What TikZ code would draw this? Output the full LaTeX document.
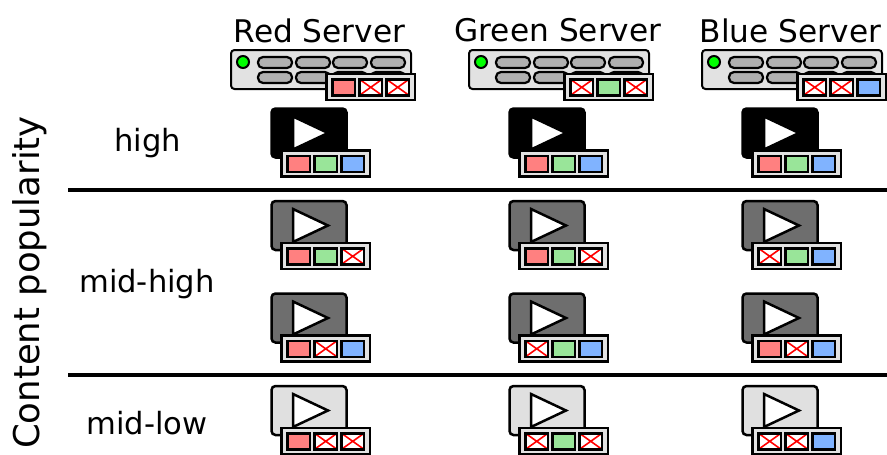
\documentclass[tikz,border=0pt]{standalone}
\usepackage{fontspec}
\setmainfont{DejaVu Sans}
\definecolor{cr}{HTML}{FF8080}
\definecolor{cg}{HTML}{99E599}
\definecolor{cb}{HTML}{80B3FF}
\definecolor{panel}{HTML}{E2E2E2}
\definecolor{pill}{HTML}{B0B0B0}
\definecolor{vdark}{HTML}{6E6E6E}
\definecolor{vlight}{HTML}{E0E0E0}
\tikzset{
  outl/.style={draw=black,line width=2.5pt},
  rule/.style={draw=black,line width=4pt},
  head/.style={font=\fontsize{31.2}{34}\selectfont,inner sep=0pt},
  lab/.style={font=\fontsize{30.6}{34}\selectfont,inner sep=0pt},
}
\newcommand{\slotbox}[4]{%
  \ifnum#3=1
    \path[outl,fill=#4] (#1,#2) rectangle ++(22.5,16);
  \else
    \path[outl,fill=white] (#1,#2) rectangle ++(22.5,16);
    \draw[red,line width=1.6pt] (#1,#2) -- ++(22.5,16) (#1+22.5,#2) -- ++(-22.5,16);
    \path[outl] (#1,#2) rectangle ++(22.5,16);
  \fi}
\newcommand{\minibar}[5]{%
  \path[outl,fill=panel] (#1,#2) rectangle ++(88.5,26);
  \slotbox{#1+6}{#2+5.3}{#3}{cr}
  \slotbox{#1+33}{#2+5.3}{#4}{cg}
  \slotbox{#1+60}{#2+5.3}{#5}{cb}}
\newcommand{\vid}[6]{%
  \path[outl,fill=#3,rounded corners=4pt] (#1,#2) rectangle ++(75,49);
  \path[outl,fill=white,line join=miter] (#1+21.5,#2+8) -- ++(0,33) -- ++(35,-16.5) -- cycle;
  \minibar{#1+10}{#2+42}{#4}{#5}{#6}}
\newcommand{\server}[5]{%
  \path[draw=black,line width=2pt,fill=panel,rounded corners=3.5pt] (#1,#2) rectangle ++(180,39);
  \path[draw=black,line width=2pt,fill=green] (#1+12,#2+12) circle (6);
  \foreach \px in {27,65,102,140}{
    \path[draw=black,line width=2.2pt,fill=pill,rounded corners=5pt] (#1+\px,#2+7) rectangle ++(34,11);
    \path[draw=black,line width=2.2pt,fill=pill,rounded corners=5pt] (#1+\px,#2+22) rectangle ++(34,11);
  }
  \minibar{#1+95.5}{#2+24}{#3}{#4}{#5}}
\begin{document}
\begin{tikzpicture}[x=1pt,y=-1pt]
\useasboundingbox (0,0) rectangle (887,455);
\clip (0,0) rectangle (887,455);
\node[head] (h1) at (319.5,30.5) {Red Server};
\node[head] (h2) at (558,30.5) {Green Server};
\node[head] (h3) at (790.5,30.5) {Blue Server};
\node[lab,rotate=90,font=\fontsize{35.5}{38}\selectfont] (cp) at (30,282.5) {Content popularity};
\node[lab] (l1) at (147.5,143) {high};
\node[lab] (l2) at (147,284.5) {mid-high};
\node[lab] (l3) at (147,423) {mid-low};
\coordinate (r1a) at (68,190); \coordinate (r1b) at (887,190);
\coordinate (r2a) at (68,375); \coordinate (r2b) at (887,375);
\path[rule] (r1a) -- (r1b);
\path[rule] (r2a) -- (r2b);
\server{231}{50}{1}{0}{0}
\server{469}{50}{0}{1}{0}
\server{702}{50}{0}{0}{1}
\vid{271.5}{108.5}{black}{1}{1}{1}
\vid{509.5}{108.5}{black}{1}{1}{1}
\vid{742.5}{108.5}{black}{1}{1}{1}
\vid{271.5}{201}{vdark}{1}{1}{0}
\vid{509.5}{201}{vdark}{1}{1}{0}
\vid{742.5}{201}{vdark}{0}{1}{1}
\vid{271.5}{293.5}{vdark}{1}{0}{1}
\vid{509.5}{293.5}{vdark}{0}{1}{1}
\vid{742.5}{293.5}{vdark}{1}{0}{1}
\vid{271.5}{386}{vlight}{1}{0}{0}
\vid{509.5}{386}{vlight}{0}{1}{0}
\vid{742.5}{386}{vlight}{0}{0}{1}
\end{tikzpicture}
\end{document}
